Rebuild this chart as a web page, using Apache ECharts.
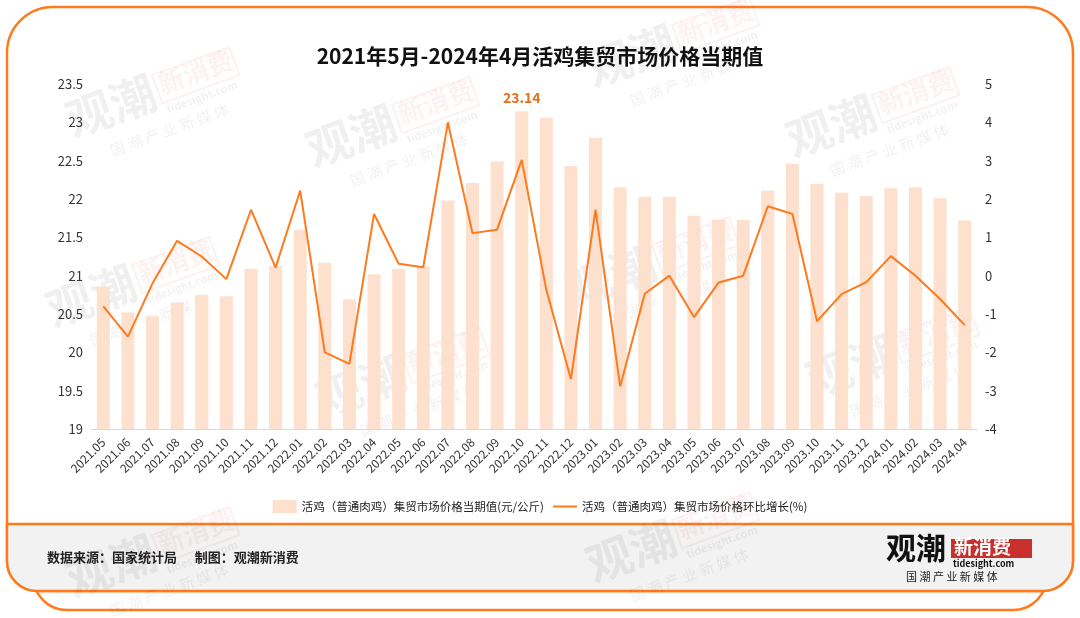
<!DOCTYPE html>
<html>
<head>
<meta charset="utf-8">
<script src="https://cdn.jsdelivr.net/npm/echarts@6/dist/echarts.min.js"></script>
<style>
  html, body { margin: 0; padding: 0; background: #fff; }
  #chart { width: 1080px; height: 618px; }
</style>
</head>
<body>
<div id="chart"></div>
<script>
const months = [
    '2021.05', '2021.06', '2021.07', '2021.08', '2021.09', '2021.10', '2021.11', '2021.12',
    '2022.01', '2022.02', '2022.03', '2022.04', '2022.05', '2022.06', '2022.07', '2022.08',
    '2022.09', '2022.10', '2022.11', '2022.12', '2023.01', '2023.02', '2023.03', '2023.04',
    '2023.05', '2023.06', '2023.07', '2023.08', '2023.09', '2023.10', '2023.11', '2023.12',
    '2024.01', '2024.02', '2024.03', '2024.04'
]
// 当期值 (元/公斤)
const priceValues = [
    20.86, 20.52, 20.47, 20.65, 20.75, 20.73, 21.09, 21.13,
    21.60, 21.17, 20.69, 21.02, 21.09, 21.12, 21.98, 22.21,
    22.49, 23.14, 23.06, 22.43, 22.80, 22.15, 22.03, 22.03,
    21.78, 21.73, 21.73, 22.11, 22.46, 22.20, 22.08, 22.04,
    22.14, 22.15, 22.01, 21.72
]
// 环比增长 (%)
const growthValues = [
    -0.80, -1.59, -0.20, 0.91, 0.50, -0.09, 1.72, 0.21,
    2.22, -2.00, -2.30, 1.61, 0.31, 0.22, 4.00, 1.11,
    1.20, 3.02, -0.37, -2.70, 1.72, -2.89, -0.47, 0.00,
    -1.08, -0.18, 0.00, 1.81, 1.61, -1.19, -0.48, -0.17,
    0.51, 0.00, -0.61, -1.29
]
const seriesNames = [
    '活鸡（普通肉鸡）集贸市场价格当期值(元/公斤)',
    '活鸡（普通肉鸡）集贸市场价格环比增长(%)'
]
const titleText = '2021年5月-2024年4月活鸡集贸市场价格当期值'
const footerText = '数据来源：国家统计局      制图：观潮新消费'

const orange = '#ff7a1c'
const cjk = '"Noto Sans CJK SC", "Liberation Sans", sans-serif'

const myChart = echarts.init(document.getElementById('chart'))

const maxIdx = priceValues.indexOf(Math.max(...priceValues))
const barData = priceValues.map((v, i) => {
    if (i !== maxIdx) return v
    return {
        value: v,
        label: {
            show: true,
            position: 'top',
            distance: 7,
            color: '#e8701a',
            fontWeight: 'bold',
            fontSize: 14,
            fontFamily: cjk
        }
    }
})

// faint watermark logo
function watermark(x, y) {
    return {
        type: 'group',
        x, y,
        rotation: 20 * Math.PI / 180,
        silent: true,
        z: 100,
        children: [
            {type: 'text', x: 0, y: 0, style: {text: '观潮', fontSize: 46, fontWeight: 'bold', fontFamily: cjk, fill: 'rgba(0,0,0,0.06)'}},
            {type: 'rect', x: 95, y: 8, shape: {width: 82, height: 30}, style: {fill: 'none', stroke: 'rgba(220,60,60,0.08)', lineWidth: 2}},
            {type: 'text', x: 98, y: 7, style: {text: '新消费', fontSize: 26, fontWeight: 'bold', fontFamily: cjk, fill: 'rgba(220,60,60,0.07)'}},
            {type: 'text', x: 97, y: 40, style: {text: 'tidesight.com', fontSize: 11, fontWeight: 'bold', fontFamily: cjk, fill: 'rgba(0,0,0,0.06)'}},
            {type: 'text', x: 30, y: 58, style: {text: '国 潮 产 业 新 媒 体', fontSize: 15, fontFamily: cjk, fill: 'rgba(0,0,0,0.06)'}}
        ]
    }
}

const marks = [
    [60, 100], [300, 130], [40, 290], [310, 380], [580, 50],
    [780, 120], [560, 270], [800, 360], [60, 560], [580, 545]
].map(p => watermark(p[0], p[1]))

const frame = [
    // lower back shape
    {type: 'rect', z: -30, shape: {x: 33, y: 540, width: 1014, height: 70, r: [0, 0, 34, 34]},
        style: {fill: '#fff', stroke: orange, lineWidth: 2.5}},
    // main frame
    {type: 'rect', z: -20, shape: {x: 7, y: 7, width: 1066, height: 584, r: [46, 46, 30, 30]},
        style: {fill: '#fff', stroke: orange, lineWidth: 2.5}},
    // footer band
    {type: 'rect', z: -10, shape: {x: 7, y: 524, width: 1066, height: 67, r: [0, 0, 30, 30]},
        style: {fill: '#f2f2f2', stroke: orange, lineWidth: 2.5}},
    {type: 'text', x: 47, y: 551, z: 5, style: {text: footerText, fontSize: 13, fontWeight: 'bold', fontFamily: cjk, fill: '#222'}},
    // logo
    {type: 'text', x: 886, y: 533, z: 5, style: {text: '观潮', fontSize: 30, fontWeight: 'bold', fontFamily: cjk, fill: '#111'}},
    {type: 'rect', z: 5, shape: {x: 951, y: 539, width: 81, height: 19}, style: {fill: '#c9302c'}},
    {type: 'text', x: 954, y: 537, z: 6, style: {text: '新消费', fontSize: 19, fontWeight: 'bold', fontFamily: cjk, fill: '#fff'}},
    {type: 'text', x: 953, y: 559, z: 5, style: {text: 'tidesight.com', fontSize: 9, fontWeight: 'bold', fontFamily: cjk, fill: '#111'}},
    {type: 'text', x: 906, y: 571, z: 5, style: {text: '国 潮 产 业 新 媒 体', fontSize: 11, fontFamily: cjk, fill: '#222'}}
]

const options = {
    backgroundColor: '#fff',
    animation: false,
    title: {
        text: titleText,
        left: 'center',
        top: 41,
        textStyle: {fontSize: 21, fontWeight: 'bold', color: '#111', fontFamily: cjk}
    },
    grid: {left: 91, right: 103, top: 84, bottom: 189},
    legend: {
        top: 495,
        left: 'center',
        itemGap: 8,
        itemWidth: 24,
        itemHeight: 13,
        textStyle: {fontSize: 11.5, color: '#222', fontFamily: cjk},
        data: [
            {name: seriesNames[0], icon: 'rect'},
            {name: seriesNames[1], itemStyle: {opacity: 0}}
        ]
    },
    xAxis: {
        type: 'category',
        data: months,
        axisTick: {show: false},
        axisLine: {onZero: false, lineStyle: {color: '#d9d9d9'}},
        axisLabel: {rotate: 45, fontSize: 12, color: '#333', margin: 11, interval: 0, fontFamily: cjk}
    },
    yAxis: [
        {
            type: 'value', min: 19, max: 23.5, interval: 0.5,
            splitLine: {show: false},
            axisLine: {show: false},
            axisLabel: {fontSize: 13, color: '#333', margin: 8, fontFamily: cjk}
        },
        {
            type: 'value', min: -4, max: 5, interval: 1,
            splitLine: {show: false},
            axisLine: {show: false},
            axisLabel: {fontSize: 13, color: '#333', margin: 8, fontFamily: cjk}
        }
    ],
    series: [
        {
            name: seriesNames[0],
            type: 'bar',
            data: barData,
            barWidth: 13,
            itemStyle: {color: '#fde0cd'}
        },
        {
            name: seriesNames[1],
            type: 'line',
            yAxisIndex: 1,
            data: growthValues,
            symbol: 'none',
            lineStyle: {color: orange, width: 2},
            itemStyle: {color: orange},
            z: 3
        }
    ],
    graphic: frame.concat(marks)
}

myChart.setOption(options)
</script>
</body>
</html>
